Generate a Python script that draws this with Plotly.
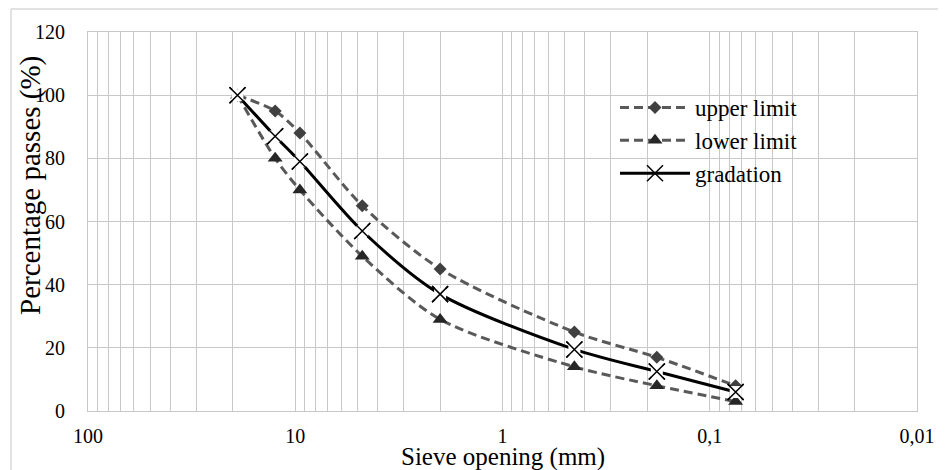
import plotly.graph_objects as go

# ---- data ----
sieve_mm = [19, 12.5, 9.5, 4.75, 2, 0.45, 0.18, 0.075]
upper_limit = [100, 95, 88, 65, 45, 25, 17, 8]
lower_limit = [100, 80, 70, 49, 29, 14, 8, 3]
gradation = [100, 87, 79, 57, 37, 19.5, 12.5, 6]

decade_labels = {100: "100", 10: "10", 1: "1", 0.1: "0,1", 0.01: "0,01"}
y_ticks = [0, 20, 40, 60, 80, 100, 120]

# log grid positions (1..9 x decade)
tickvals, ticktext = [], []
for base in [0.01, 0.1, 1, 10]:
    for m in range(1, 10):
        v = round(base * m, 6)
        tickvals.append(v)
        ticktext.append(decade_labels.get(v, ""))
tickvals.append(100)
ticktext.append("100")

FONT = "Liberation Serif"
GRID = "#c8c8c8"
DASH_COL = "#595959"

fig = go.Figure()

fig.add_trace(go.Scatter(
    x=sieve_mm, y=upper_limit, name="upper limit", mode="lines+markers",
    line=dict(color=DASH_COL, width=3, dash="9px,5px", shape="spline", smoothing=0.8),
    marker=dict(symbol="diamond", size=10, color="#404040"),
))
fig.add_trace(go.Scatter(
    x=sieve_mm, y=lower_limit, name="lower limit", mode="lines+markers",
    line=dict(color=DASH_COL, width=3, dash="9px,5px", shape="spline", smoothing=0.8),
    marker=dict(symbol="triangle-up", size=13, color="#262626"),
))
fig.add_trace(go.Scatter(
    x=sieve_mm, y=gradation, name="gradation", mode="lines+markers",
    line=dict(color="black", width=3, shape="spline", smoothing=0.8),
    marker=dict(symbol="x-thin", size=16, color="black",
                line=dict(color="black", width=1.5)),
))
# white background squares of the X markers
fig.add_trace(go.Scatter(
    x=sieve_mm, y=gradation, mode="markers", showlegend=False, hoverinfo="skip",
    marker=dict(symbol="square", size=12, color="white"),
))
fig.add_trace(go.Scatter(
    x=sieve_mm, y=gradation, mode="markers", showlegend=False, hoverinfo="skip",
    marker=dict(symbol="x-thin", size=16, color="black",
                line=dict(color="black", width=1.5)),
))

OFF = 8  # page body margin
W, H = 946 - OFF, 470 - OFF
L, T = 88 - OFF, 32 - OFF
R = W - (917 - OFF)
B = H - (411 - OFF)
pw, ph = W - L - R, H - T - B


def px(xs):
    return (xs - 88) / pw


def py(ys):
    return (411 - ys) / ph


fig.update_layout(
    width=W, height=H,
    margin=dict(l=L, r=R, t=T, b=B),
    paper_bgcolor="white", plot_bgcolor="white",
    font=dict(family=FONT, size=20, color="black"),
    showlegend=True,
    legend=dict(
        x=px(615), y=py(86), xanchor="left", yanchor="top",
        bgcolor="rgba(0,0,0,0)", font=dict(family=FONT, size=23, color="black"),
        itemwidth=70, tracegroupgap=0,
    ),
    xaxis=dict(
        type="log", range=[2, -2], tickmode="array",
        tickvals=tickvals, ticktext=ticktext,
        showgrid=True, gridcolor=GRID, gridwidth=1,
        showline=True, linecolor=GRID, linewidth=1, mirror=True,
        ticks="", zeroline=False, ticklabelstandoff=7,
        tickfont=dict(family=FONT, size=20, color="black"),
    ),
    yaxis=dict(
        range=[0, 120], tickmode="array", tickvals=y_ticks,
        showgrid=True, gridcolor=GRID, gridwidth=1,
        showline=True, linecolor=GRID, linewidth=1, mirror=True,
        ticks="", zeroline=False, ticklabelstandoff=18,
        tickfont=dict(family=FONT, size=20, color="black"),
    ),
    annotations=[
        dict(text="Percentage passes (%)", xref="paper", yref="paper",
             x=px(31), y=py(186), textangle=-90,
             showarrow=False, font=dict(family=FONT, size=29, color="black"),
             xanchor="center", yanchor="middle"),
        dict(text="Sieve opening (mm)", xref="paper", yref="paper",
             x=0.5, y=py(457), showarrow=False,
             font=dict(family=FONT, size=25, color="black"),
             xanchor="center", yanchor="middle"),
    ],
    shapes=[
        dict(type="line", xref="paper", yref="paper",
             x0=px(11), x1=px(960), y0=py(9), y1=py(9),
             line=dict(color="#d9d9d9", width=1.5)),
        dict(type="line", xref="paper", yref="paper",
             x0=px(11), x1=px(11), y0=py(9), y1=py(480),
             line=dict(color="#d9d9d9", width=1.5)),
    ],
)

fig.write_html("out.html")
